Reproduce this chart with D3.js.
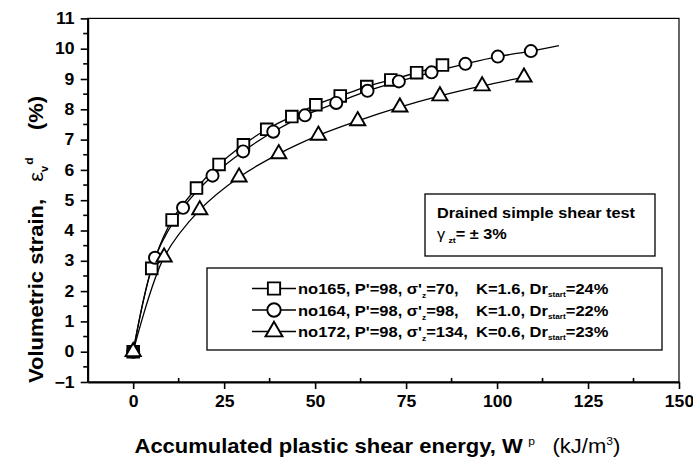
<!DOCTYPE html>
<html><head><meta charset="utf-8">
<script src="https://cdn.jsdelivr.net/npm/d3@7"></script>
<style>body{margin:0;background:#fff}svg{display:block}text{font-family:"Liberation Sans",Arial,sans-serif;fill:#000}
.tick text{transform-box:fill-box;transform-origin:center;transform:scaleX(1.1)}</style>
</head><body><svg id="c" width="693" height="457"></svg>
<script>
// ---- data ----
const xTicks = [0, 25, 50, 75, 100, 125, 150];
const yTicks = [-1, 0, 1, 2, 3, 4, 5, 6, 7, 8, 9, 10, 11];
const xDomain = [-12.5, 150];
const yDomain = [-1, 11];

const wp165 = [0, 5.1, 10.7, 17.4, 23.6, 30.3, 36.7, 43.6, 50.2, 56.9, 64.2, 70.8, 77.9, 85.0];
const ev165 = [0, 2.75, 4.35, 5.40, 6.18, 6.83, 7.34, 7.76, 8.15, 8.44, 8.75, 8.97, 9.21, 9.46];

const wp164 = [0, 6.0, 13.7, 21.8, 30.2, 38.5, 47.2, 55.8, 64.4, 73.0, 82.0, 91.3, 100.2, 109.3];
const ev164 = [0, 3.10, 4.75, 5.81, 6.61, 7.26, 7.80, 8.21, 8.61, 8.92, 9.22, 9.50, 9.74, 9.92];
const curveEnd164 = [117, 10.1];

const wp172 = [0, 8.5, 18.3, 29.1, 40.0, 50.9, 61.7, 73.3, 84.3, 95.9, 107.4];
const ev172 = [0, 3.12, 4.68, 5.76, 6.53, 7.14, 7.62, 8.07, 8.44, 8.77, 9.06];

const legendIds = ["no165", "no164", "no172"];
const legendSigma = ["70,", "98,", "134,"];
const legendK = ["K=1.6", "K=1.0", "K=0.6"];
const legendDr = ["24%", "22%", "23%"];

// ---- layout ----
const svg = d3.select("#c");
const SX = 1.1; // horizontal stretch of the lettering
const L = 87.7, R = 679, T = 18.4, B = 382;
const x = d3.scaleLinear().domain(xDomain).range([L, R]);
const y = d3.scaleLinear().domain(yDomain).range([B, T]);

function txt(px, py, size, rot) {
  return svg.append("text")
    .attr("transform", `translate(${px},${py})${rot ? " rotate(-90)" : ""} scale(${SX},1)`)
    .attr("font-size", size).attr("font-weight", "bold");
}

// frame
svg.append("rect").attr("x", L).attr("y", T).attr("width", R - L).attr("height", B - T)
  .attr("fill", "none").attr("stroke", "#000").attr("stroke-width", 1.2);

// axes
const xAxis = d3.axisBottom(x).tickValues(xTicks).tickSize(7).tickSizeOuter(0).tickPadding(7);
const gx = svg.append("g").attr("transform", `translate(0,${B})`).call(xAxis);
const yAxis = d3.axisLeft(y).tickValues(yTicks).tickSize(7).tickSizeOuter(0).tickPadding(7);
const gy = svg.append("g").attr("transform", `translate(${L},0)`).call(yAxis);
[gx, gy].forEach(g => {
  g.select(".domain").attr("stroke", "#000").attr("stroke-width", 2);
  g.selectAll(".tick line").attr("stroke", "#000").attr("stroke-width", 1.6);
  g.selectAll(".tick text").attr("font-size", 16).attr("font-weight", "bold")
   .attr("font-family", "Liberation Sans, Arial, sans-serif").attr("fill", "#000");
});
// minor ticks
const xMinor = d3.range(xDomain[0] + 25, xDomain[1], 25);
svg.append("g").selectAll("line").data(xMinor).join("line")
  .attr("x1", d => x(d)).attr("x2", d => x(d)).attr("y1", B).attr("y2", B - 4)
  .attr("stroke", "#000").attr("stroke-width", 1.6);
const yMinor = d3.range(yDomain[0] + 0.5, yDomain[1], 1);
svg.append("g").selectAll("line").data(yMinor).join("line")
  .attr("x1", L).attr("x2", L - 4.5).attr("y1", d => y(d)).attr("y2", d => y(d))
  .attr("stroke", "#000").attr("stroke-width", 1.6);

// series
const s165 = wp165.map((w, i) => [w, ev165[i]]);
const s164 = wp164.map((w, i) => [w, ev164[i]]);
const s172 = wp172.map((w, i) => [w, ev172[i]]);
const line = d3.line().x(d => x(d[0])).y(d => y(d[1])).curve(d3.curveCatmullRom.alpha(0.5));
[s165, s164.concat([curveEnd164]), s172].forEach(s => {
  svg.append("path").attr("d", line(s)).attr("fill", "none").attr("stroke", "#000").attr("stroke-width", 1.3);
});

const sym = {
  sq: d3.symbol(d3.symbolSquare, 135),
  ci: d3.symbol(d3.symbolCircle, 115),
  tr: d3.symbol(d3.symbolTriangle, 100)
};
function markers(data, s) {
  svg.append("g").selectAll("path").data(data).join("path")
    .attr("d", s).attr("transform", d => `translate(${x(d[0])},${y(d[1])})`)
    .attr("fill", "#fff").attr("stroke", "#000").attr("stroke-width", 1.9);
}
markers(s165, sym.sq);
markers(s164, sym.ci);
markers(s172, sym.tr);

// annotation box
svg.append("rect").attr("x", 425).attr("y", 194).attr("width", 230).attr("height", 62)
  .attr("fill", "#fff").attr("stroke", "#000").attr("stroke-width", 1.3);
txt(437, 218, 14.8).text("Drained simple shear test");
const an2 = txt(437, 239, 14.8);
an2.append("tspan").attr("font-weight", "normal").text("γ");
an2.append("tspan").attr("font-size", 8).attr("dy", 4).attr("dx", 3).text("zt");
an2.append("tspan").attr("dy", -4).text("= ± 3%");

// legend
svg.append("rect").attr("x", 207).attr("y", 268).attr("width", 455).attr("height", 82)
  .attr("fill", "#fff").attr("stroke", "#000").attr("stroke-width", 1.3);
const legSym = [d3.symbol(d3.symbolSquare, 150), d3.symbol(d3.symbolCircle, 140), d3.symbol(d3.symbolTriangle, 125)];
legendIds.forEach((id, i) => {
  const cy = 288.5 + i * 21.5;
  svg.append("line").attr("x1", 252).attr("x2", 296).attr("y1", cy).attr("y2", cy)
    .attr("stroke", "#000").attr("stroke-width", 1.3);
  svg.append("path").attr("d", legSym[i]).attr("transform", `translate(274,${cy})`)
    .attr("fill", "#fff").attr("stroke", "#000").attr("stroke-width", 1.9);
  const t1 = txt(298, cy + 5.5, 15);
  t1.append("tspan").text(`${id}, P'=98, σ'`);
  t1.append("tspan").attr("font-size", 7.5).attr("dy", 4).text("z");
  t1.append("tspan").attr("dy", -4).text("=" + legendSigma[i]);
  const t2 = txt(476, cy + 5.5, 15);
  t2.append("tspan").text(legendK[i] + ", Dr");
  t2.append("tspan").attr("font-size", 7.5).attr("dy", 3).text("start");
  t2.append("tspan").attr("dy", -3).text("=" + legendDr[i]);
});

// axis titles
const xt = txt(134.5, 453, 20);
xt.append("tspan").text("Accumulated plastic shear energy, W");
xt.append("tspan").attr("dx", 5).attr("font-size", 11).attr("dy", -8).attr("font-weight", "normal").text("p");
xt.append("tspan").attr("x", 380).attr("dy", 8).attr("font-weight", "normal").text("(kJ/m");
xt.append("tspan").attr("font-size", 11).attr("dy", -8).attr("font-weight", "normal").text("3");
xt.append("tspan").attr("dy", 8).attr("font-weight", "normal").text(")");

const yt = txt(43, 383, 20, true);
yt.append("tspan").text("Volumetric strain,");
yt.append("tspan").attr("x", 183).attr("font-weight", "normal").text("ε");
yt.append("tspan").attr("font-size", 10).attr("dy", 5).text("v");
yt.append("tspan").attr("font-size", 11).attr("dy", -15).attr("dx", 1).text("d");
yt.append("tspan").attr("x", 230).attr("dy", 10).text("(%)");
</script></body></html>
